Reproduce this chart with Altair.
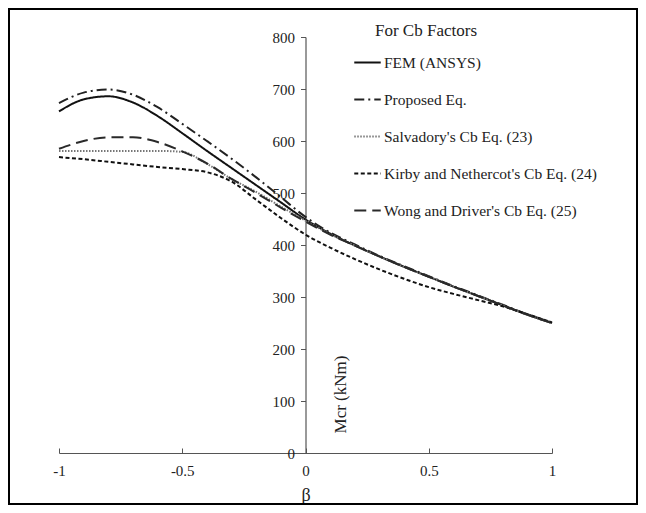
import altair as alt
import pandas as pd

beta = [-1.0, -0.9, -0.8, -0.7, -0.6, -0.5, -0.4, -0.3, -0.2, -0.1, 0.0,
        0.1, 0.2, 0.3, 0.4, 0.5, 0.6, 0.7, 0.8, 0.9, 1.0]

fem = [657, 680, 686, 674, 648, 615, 581, 548, 515, 482, 449,
       422, 399, 378, 358, 339, 320, 302, 284, 266, 250]
proposed = [673, 693, 699, 689, 665, 633, 600, 566, 530, 492, 454,
            424, 401, 379, 359, 340, 321, 303, 285, 267, 251]
salvadory = [581, 581, 581, 581, 581, 579, 556, 527, 502, 474, 447,
             421, 399, 378, 358, 339, 320, 302, 284, 266, 250]
kirby = [569, 565, 560, 555, 550, 546, 540, 522, 487, 452, 420,
         395, 373, 353, 335, 319, 306, 294, 282, 267, 251]
wong = [585, 600, 607, 607, 598, 580, 557, 527, 500, 472, 445,
        420, 399, 378, 358, 339, 320, 302, 284, 266, 250]

names = ["FEM (ANSYS)", "Proposed Eq.", "Salvadory's Cb Eq. (23)",
         "Kirby and Nethercot's Cb Eq. (24)", "Wong and Driver's Cb Eq. (25)"]
series_values = [fem, proposed, salvadory, kirby, wong]

colors = ["#111111", "#222222", "#777777", "#111111", "#2a2a2a"]
dashes = [[1, 0], [10, 4, 2, 4], [1.5, 1.5], [4, 2.5], [12, 6]]
widths = [2.0, 2.0, 1.6, 1.8, 2.2]

x_ticks = [-1, -0.5, 0, 0.5, 1]
y_ticks = [0, 100, 200, 300, 400, 500, 600, 700, 800]
legend_title = "For Cb Factors"

rows = []
for name, vals in zip(names, series_values):
    for b, v in zip(beta, vals):
        rows.append({"beta": b, "Mcr": v, "series": name})
df = pd.DataFrame(rows)

FONT = "Liberation Serif"
W, H = 493, 416

xscale = alt.Scale(domain=[-1, 1], nice=False, zero=False)
yscale = alt.Scale(domain=[0, 800], nice=False)

lines = alt.Chart(df).mark_line(interpolate="monotone").encode(
    x=alt.X("beta:Q", scale=xscale,
            axis=alt.Axis(title="β", values=x_ticks, labelExpr="toString(datum.value)",
                          labelFlush=False, grid=False, tickSize=0, labelPadding=10,
                          titlePadding=8, titleFontSize=18, titleFontWeight="normal",
                          labelFontSize=15, domainColor="#555", domainWidth=1.2)),
    y=alt.Y("Mcr:Q", scale=yscale,
            axis=alt.Axis(title="Mcr (kNm)", values=y_ticks, grid=False, offset=-246.5,
                          labelFontSize=15, tickSize=5, labelPadding=6,
                          tickColor="#555", domainColor="#555", domainWidth=1.2,
                          titleX=35, titleY=357, titleAngle=270, titleAlign="center",
                          titleBaseline="middle", titleFontSize=17,
                          titleFontWeight="normal")),
    color=alt.Color("series:N", scale=alt.Scale(domain=names, range=colors),
                    legend=alt.Legend(title=None)),
    strokeDash=alt.StrokeDash("series:N", scale=alt.Scale(domain=names, range=dashes),
                              legend=alt.Legend(title=None)),
    strokeWidth=alt.StrokeWidth("series:N", scale=alt.Scale(domain=names, range=widths),
                                legend=alt.Legend(title=None)),
    order=alt.Order("beta:Q"),
)

top_ticks = alt.Chart(df).mark_point(opacity=0).encode(
    x=alt.X("beta:Q", scale=xscale,
            axis=alt.Axis(orient="top", offset=-H, values=x_ticks, labels=False,
                          domain=False, grid=False, tickSize=5, tickColor="#555",
                          title=None)),
)

title_text = alt.Chart(pd.DataFrame({"t": [legend_title]})).mark_text(
    align="left", baseline="middle", font=FONT, fontSize=17, color="#222"
).encode(text="t:N", x=alt.value(316), y=alt.value(-6))

frame = alt.Chart(pd.DataFrame({"k": [0]})).mark_rect(
    fill=None, stroke="#000", strokeWidth=2
).encode(
    x=alt.value(-50), x2=alt.value(W + 85), y=alt.value(-28), y2=alt.value(H + 51)
)

chart = alt.layer(frame, lines, top_ticks, title_text).resolve_axis(x="independent").properties(
    width=W, height=H,
    padding={"left": 51, "top": 29, "right": 86, "bottom": 52},
    autosize=alt.AutoSizeParams(type="none"),
).configure_view(stroke=None).configure_axis(
    labelFont=FONT, titleFont=FONT, labelColor="#222", titleColor="#222"
).configure_legend(
    orient="none", legendX=294, legendY=11, symbolType="stroke", symbolSize=700,
    rowPadding=14, labelFont=FONT, labelFontSize=15.5, labelColor="#222",
    labelOffset=2, labelLimit=400
)

chart.save("out.html", embed_options={"renderer": "svg", "actions": False})
